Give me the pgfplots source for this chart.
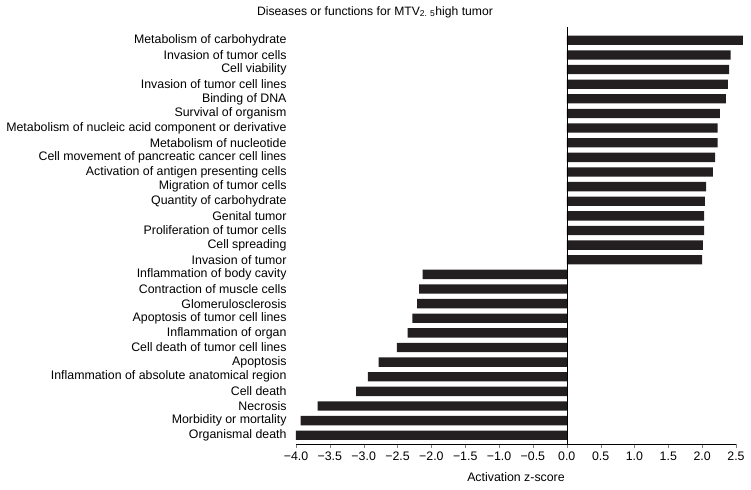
\documentclass[border=0pt]{standalone}
\usepackage{pgfplots}
\pgfplotsset{compat=1.18}
\usepackage{fontspec}
\setmainfont{Liberation Sans}
\definecolor{barblack}{HTML}{231F20}

\begin{document}
\begin{tikzpicture}
\useasboundingbox (-296bp,-46bp) rectangle (455bp,444bp);
\begin{axis}[
  at={(0,0)}, anchor=south west,
  scale only axis, width=440bp, height=417bp,
  xmin=-4, xmax=2.5, ymin=0.4, ymax=28.91,
  axis x line*=bottom, axis y line*=left,
  x axis line style={-}, y axis line style={draw=none},
  y tick style={draw=none},
  tick align=outside, major tick length=4bp,
  xtick={-4,-3.5,...,2.5},
  xticklabels={−4.0,−3.5,−3.0,−2.5,−2.0,−1.5,−1.0,−0.5,0.0,0.5,1.0,1.5,2.0,2.5},
  ytick={1,...,28},
  yticklabels={Organismal death,Morbidity or mortality,Necrosis,Cell death,
    Inflammation of absolute anatomical region,Apoptosis,Cell death of tumor cell lines,
    Inflammation of organ,Apoptosis of tumor cell lines,Glomerulosclerosis,
    Contraction of muscle cells,Inflammation of body cavity,Invasion of tumor,
    Cell spreading,Proliferation of tumor cells,Genital tumor,Quantity of carbohydrate,
    Migration of tumor cells,Activation of antigen presenting cells,
    Cell movement of pancreatic cancer cell lines,Metabolism of nucleotide,
    Metabolism of nucleic acid component or derivative,Survival of organism,
    Binding of DNA,Invasion of tumor cell lines,Cell viability,Invasion of tumor cells,
    Metabolism of carbohydrate},
  ticklabel style={font=\fontsize{12.4}{14}\selectfont},
  yticklabel style={xshift=-2bp},
  xlabel={Activation z-score},
  label style={font=\fontsize{12.4}{14}\selectfont},
  xlabel style={yshift=-5bp},
  xbar, bar width=0.64,
  clip=false,
]
\addplot[fill=barblack, draw=none] coordinates {
  (-4.00,1) (-3.93,2) (-3.68,3) (-3.11,4) (-2.94,5) (-2.78,6) (-2.51,7)
  (-2.35,8) (-2.28,9) (-2.21,10) (-2.18,11) (-2.13,12)
  (2.00,13) (2.01,14) (2.03,15) (2.03,16) (2.04,17) (2.06,18) (2.16,19)
  (2.19,20) (2.23,21) (2.23,22) (2.26,23) (2.35,24) (2.38,25) (2.40,26)
  (2.42,27) (2.60,28)
};
\draw[black] (axis cs:0,0.4) -- (axis cs:0,28.91);
\end{axis}
\node[font=\fontsize{12.2}{14}\selectfont] at (79bp,432bp)
  {Diseases or functions for MTV\textsubscript{2. 5}high tumor};
\end{tikzpicture}
\end{document}
